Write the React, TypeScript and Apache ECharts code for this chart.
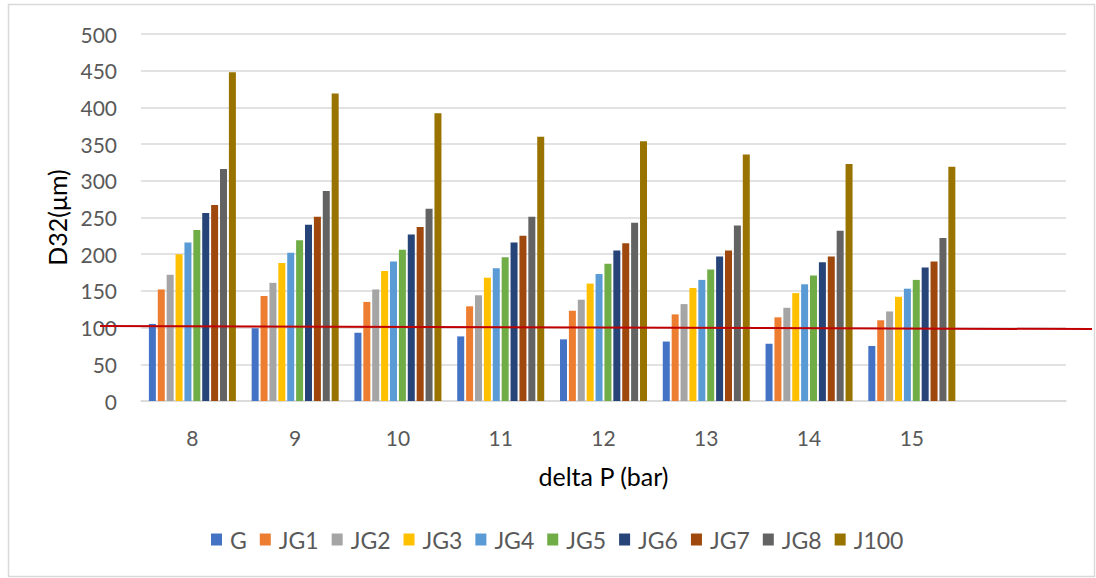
import React, { useEffect, useRef } from "react";
import * as echarts from "echarts";

const categories = ["8", "9", "10", "11", "12", "13", "14", "15", ""];
const seriesNames = ["G", "JG1", "JG2", "JG3", "JG4", "JG5", "JG6", "JG7", "JG8", "J100"];
const colors = ["#4472C4", "#ED7D31", "#A5A5A5", "#FFC000", "#5B9BD5", "#70AD47", "#264478", "#9E480E", "#636363", "#997300"];

const G = [105, 99, 93, 88, 84, 81, 78, 75];
const JG1 = [152, 143, 135, 129, 123, 118, 114, 110];
const JG2 = [172, 161, 152, 144, 138, 132, 127, 122];
const JG3 = [200, 188, 177, 168, 160, 154, 147, 142];
const JG4 = [216, 202, 190, 181, 173, 165, 159, 153];
const JG5 = [233, 219, 206, 196, 187, 179, 171, 165];
const JG6 = [256, 240, 227, 216, 205, 197, 189, 182];
const JG7 = [267, 251, 237, 225, 215, 205, 197, 190];
const JG8 = [316, 286, 262, 251, 243, 239, 232, 222];
const J100 = [448, 419, 392, 360, 354, 336, 323, 319];

const allValues = [G, JG1, JG2, JG3, JG4, JG5, JG6, JG7, JG8, J100];
const yTicks = { min: 0, max: 500, interval: 50 };
const thresholdValue = 100;

const FONT = "Lato";

export default function App() {
  const ref = useRef<HTMLDivElement>(null);
  useEffect(() => {
    if (!ref.current) return;
    const chart = echarts.init(ref.current, null, { renderer: "svg" });
    const option: any = {
      animation: false,
      backgroundColor: "#ffffff",
      grid: { left: 141, right: 30, top: 34, bottom: 177, containLabel: false },
      legend: {
        data: seriesNames,
        bottom: 22,
        left: 206,
        itemWidth: 11,
        itemHeight: 12,
        itemGap: 13,
        icon: "rect",
        textStyle: { fontFamily: FONT, fontSize: 23, color: "#595959", padding: [0, 0, 0, 3] },
      },
      xAxis: {
        type: "category",
        data: categories,
        name: "delta P (bar)",
        nameLocation: "middle",
        nameGap: 62,
        nameTextStyle: { fontFamily: FONT, fontSize: 25, color: "#000000" },
        axisTick: { show: false },
        axisLine: { lineStyle: { color: "#d9d9d9", width: 1.5 } },
        axisLabel: { fontFamily: FONT, fontSize: 21, color: "#595959", margin: 26 },
      },
      yAxis: {
        type: "value",
        min: yTicks.min,
        max: yTicks.max,
        interval: yTicks.interval,
        name: "D32(μm)",
        nameLocation: "middle",
        nameGap: 72,
        nameRotate: 90,
        nameTextStyle: { fontFamily: FONT, fontSize: 25, color: "#000000" },
        axisLine: { show: false },
        axisTick: { show: false },
        axisLabel: { fontFamily: FONT, fontSize: 21, color: "#595959", margin: 24 },
        splitLine: { lineStyle: { color: "#d9d9d9", width: 1.5 } },
      },
      series: seriesNames.map((name, i) => ({
        name,
        type: "bar",
        data: allValues[i],
        barWidth: 7,
        barGap: "27%",
        itemStyle: { color: colors[i] },
      })),
    };
    chart.setOption(option);
    const y = chart.convertToPixel({ yAxisIndex: 0 }, thresholdValue) as number;
    chart.setOption({
      graphic: [
        {
          type: "rect",
          shape: { x: 8.5, y: 4.5, width: 1086, height: 572 },
          style: { fill: "none", stroke: "#d9d9d9", lineWidth: 1.5 },
          silent: true,
        },
        {
          type: "line",
          shape: { x1: 100, y1: y - 1.5, x2: 1092, y2: y + 1.5 },
          style: { stroke: "#C00000", lineWidth: 2 },
          z: 100,
          silent: true,
        },
      ],
    });
    return () => chart.dispose();
  }, []);
  return (
    <div
      ref={ref}
      style={{ position: "fixed", left: 0, top: 0, width: 1096, height: 578 }}
    />
  );
}
